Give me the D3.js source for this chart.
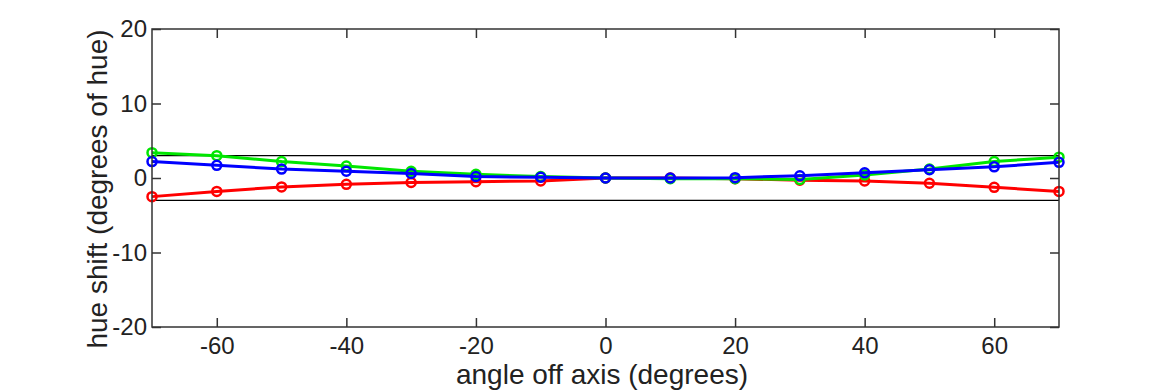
<!DOCTYPE html>
<html>
<head>
<meta charset="utf-8">
<script src="https://cdn.jsdelivr.net/npm/d3@7"></script>
<style>
  html, body { margin: 0; padding: 0; background: #fff; }
  svg { display: block; }
  text { font-family: "Liberation Sans", Arial, Helvetica, sans-serif; fill: #222; }
</style>
</head>
<body>
<svg id="chart" width="1170" height="390"></svg>
<script>
const angles = [-70, -60, -50, -40, -30, -20, -10, 0, 10, 20, 30, 40, 50, 60, 70];
const redValues   = [-2.5, -1.8, -1.2, -0.85, -0.6, -0.5, -0.4, 0, 0, -0.1, -0.3, -0.4, -0.7, -1.25, -1.8];
const greenValues = [3.4, 3.0, 2.2, 1.6, 0.9, 0.5, 0.2, 0, -0.1, -0.1, -0.2, 0.4, 1.2, 2.2, 2.8];
const blueValues  = [2.2, 1.7, 1.2, 0.9, 0.6, 0.2, 0.1, 0, 0, 0.05, 0.3, 0.7, 1.1, 1.5, 2.1];
const xTicks = [-60, -40, -20, 0, 20, 40, 60];
const yTicks = [-20, -10, 0, 10, 20];
const refLines = [3, -3];
const xTitle = "angle off axis (degrees)";
const yTitle = "hue shift (degrees of hue)";

const series = [
  { name: "red", color: "#ff0000", values: redValues },
  { name: "green", color: "#00e600", values: greenValues },
  { name: "blue", color: "#0000ff", values: blueValues }
];

(function () {
const svg = d3.select("#chart");
const pL = 152, pR = 1059, pT = 29, pB = 327;
const x = d3.scaleLinear().domain([-70, 70]).range([pL, pR]);
const y = d3.scaleLinear().domain([-20, 20]).range([pB, pT]);
const tickLen = 9;
const fmt = d => String(d);

// reference lines
svg.selectAll("line.ref").data(refLines).enter().append("line")
  .attr("class", "ref")
  .attr("x1", pL).attr("x2", pR)
  .attr("y1", d => y(d)).attr("y2", d => y(d))
  .attr("stroke", "#000").attr("stroke-width", 1.2);

// series
const lineGen = d3.line().x((d, i) => x(angles[i])).y(d => y(d));
series.forEach(s => {
  const g = svg.append("g");
  g.append("path").datum(s.values)
    .attr("d", lineGen)
    .attr("fill", "none").attr("stroke", s.color).attr("stroke-width", 3);
  g.selectAll("circle").data(s.values).enter().append("circle")
    .attr("cx", (d, i) => x(angles[i])).attr("cy", d => y(d))
    .attr("r", 4.5).attr("fill", "none")
    .attr("stroke", s.color).attr("stroke-width", 2.5);
});

// axes (ticks inside)
const axisColor = "#333";
const bottomAxis = d3.axisBottom(x).tickValues(xTicks).tickFormat(fmt).tickSizeInner(-tickLen).tickSizeOuter(0).tickPadding(10);
const topAxis = d3.axisTop(x).tickValues(xTicks).tickSizeInner(-tickLen).tickSizeOuter(0).tickFormat("");
const leftAxis = d3.axisLeft(y).tickValues(yTicks).tickFormat(fmt).tickSizeInner(-tickLen).tickSizeOuter(0).tickPadding(5);
const rightAxis = d3.axisRight(y).tickValues(yTicks).tickSizeInner(-tickLen).tickSizeOuter(0).tickFormat("");

function styleAxis(g) {
  g.select(".domain").remove();
  g.selectAll(".tick line").attr("stroke", axisColor).attr("stroke-width", 1.5);
  g.selectAll(".tick text").attr("font-size", 24).attr("fill", "#222")
    .attr("font-family", "'Liberation Sans', Arial, sans-serif");
}
svg.append("g").attr("transform", `translate(0,${pB})`).call(bottomAxis).call(styleAxis);
svg.append("g").attr("transform", `translate(0,${pT})`).call(topAxis).call(styleAxis);
svg.append("g").attr("transform", `translate(${pL},0)`).call(leftAxis).call(styleAxis);
svg.append("g").attr("transform", `translate(${pR},0)`).call(rightAxis).call(styleAxis);

// frame
svg.append("rect").attr("x", pL).attr("y", pT)
  .attr("width", pR - pL).attr("height", pB - pT)
  .attr("fill", "none").attr("stroke", axisColor).attr("stroke-width", 1.5);

// titles
svg.append("text").attr("x", 602).attr("y", 384)
  .attr("text-anchor", "middle").attr("font-size", 28).text(xTitle);
svg.append("text").attr("transform", "translate(107,189) rotate(-90)")
  .attr("text-anchor", "middle").attr("font-size", 28).text(yTitle);
})();
</script>
</body>
</html>
